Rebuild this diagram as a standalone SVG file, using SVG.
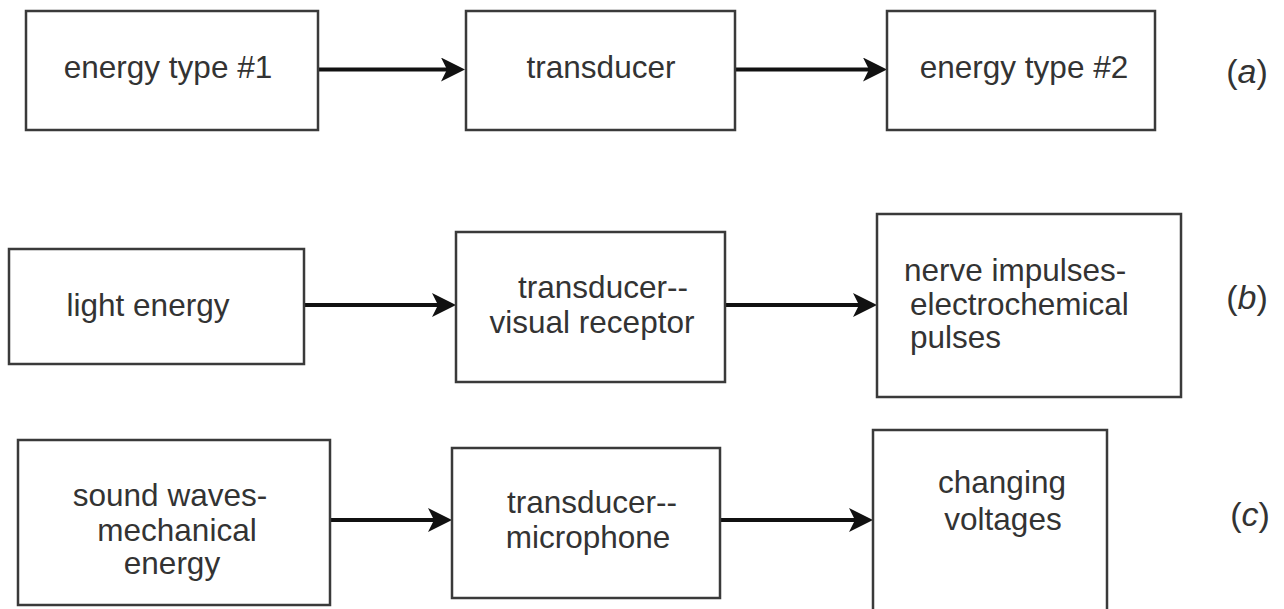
<svg xmlns="http://www.w3.org/2000/svg" width="1284" height="609" viewBox="0 0 1284 609">
<style>
.box{fill:#fff;stroke:#3a3a3a;stroke-width:2.5}
.t{font-family:"Liberation Sans",Arial,sans-serif;font-size:31.5px;fill:#333}
.c{text-anchor:middle}
.lbl{font-family:"Liberation Sans",Arial,sans-serif;font-size:34px;fill:#333;text-anchor:middle}
.arr{stroke:#111;stroke-width:4;fill:none;marker-end:url(#ah)}
</style>
<defs>
<marker id="ah" markerUnits="userSpaceOnUse" viewBox="0 0 24 24" refX="8" refY="12" markerWidth="24" markerHeight="24" orient="auto">
<path d="M0,0 L24,12 L0,24 L6,12 Z" fill="#111"/>
</marker>
</defs>
<rect width="1284" height="609" fill="#fff"/>
<g id="connectors">
<line class="arr" x1="318" y1="69.5" x2="449" y2="69.5"/>
<line class="arr" x1="735" y1="69.5" x2="871" y2="69.5"/>
<line class="arr" x1="304" y1="305" x2="440" y2="305"/>
<line class="arr" x1="725" y1="305" x2="861" y2="305"/>
<line class="arr" x1="330" y1="520" x2="436" y2="520"/>
<line class="arr" x1="720" y1="520" x2="857" y2="520"/>
</g>
<g id="a1"><rect class="box" x="26" y="11" width="292" height="119"/><text class="t c" x="168" y="78">energy type #1</text></g>
<g id="a2"><rect class="box" x="466" y="11" width="269" height="119"/><text class="t c" x="601" y="78">transducer</text></g>
<g id="a3"><rect class="box" x="887" y="11" width="268" height="119"/><text class="t c" x="1024" y="78">energy type #2</text></g>
<g id="la"><text class="lbl" x="1247" y="83">(<tspan font-style="italic">a</tspan>)</text></g>
<g id="b1"><rect class="box" x="9" y="249" width="295" height="115"/><text class="t c" x="148" y="316">light energy</text></g>
<g id="b2"><rect class="box" x="456" y="232" width="269" height="150"/><text class="t c"><tspan x="603" y="298">transducer--</tspan><tspan x="592" y="333">visual receptor</tspan></text></g>
<g id="b3"><rect class="box" x="877" y="214" width="304" height="183"/><text class="t"><tspan x="904" y="281">nerve impulses-</tspan><tspan x="910" y="315">electrochemical</tspan><tspan x="910" y="348">pulses</tspan></text></g>
<g id="lb"><text class="lbl" x="1247" y="309">(<tspan font-style="italic">b</tspan>)</text></g>
<g id="c1"><rect class="box" x="18" y="440" width="312" height="165"/><text class="t c"><tspan x="170" y="506">sound waves-</tspan><tspan x="177" y="541">mechanical</tspan><tspan x="172" y="574">energy</tspan></text></g>
<g id="c2"><rect class="box" x="452" y="448" width="268" height="150"/><text class="t c"><tspan x="592" y="513">transducer--</tspan><tspan x="588" y="548">microphone</tspan></text></g>
<g id="c3"><rect class="box" x="873" y="430" width="234" height="200"/><text class="t c"><tspan x="1002" y="493">changing</tspan><tspan x="1003" y="530">voltages</tspan></text></g>
<g id="lc"><text class="lbl" x="1250" y="526">(<tspan font-style="italic">c</tspan>)</text></g>
</svg>
